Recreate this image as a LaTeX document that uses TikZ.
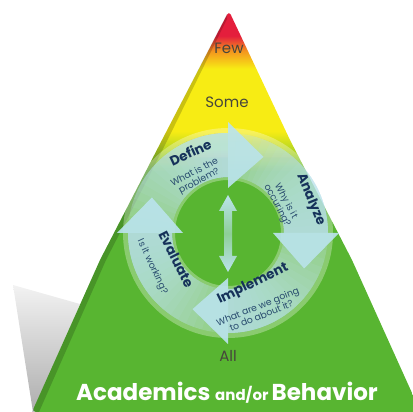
\documentclass[tikz,border=0pt]{standalone}
\usepackage{fontspec}
\setmainfont{Poppins}
\usetikzlibrary{calc}
\definecolor{pred}{RGB}{228,30,60}
\definecolor{porange}{RGB}{244,150,30}
\definecolor{pyellow}{RGB}{247,236,20}
\definecolor{pyg}{RGB}{175,212,35}
\definecolor{pgreen}{RGB}{88,181,49}
\definecolor{arrowblue}{RGB}{186,227,236}
\definecolor{titlecol}{RGB}{22,50,90}
\definecolor{subcol}{RGB}{40,75,110}
\definecolor{lvlcol}{RGB}{70,70,60}
\pgfdeclareverticalshading{pyr}{100bp}{color(0bp)=(pgreen); color(55bp)=(pgreen); color(57.5bp)=(pyg); color(60bp)=(pyellow); color(67.8bp)=(pyellow); color(70bp)=(porange); color(71.9bp)=(pred); color(100bp)=(pred)}
\begin{document}
\begin{tikzpicture}[x=1pt,y=1pt,
  title/.style={font=\fontsize{13.5}{13.5}\selectfont\bfseries, text=titlecol, inner sep=0pt},
  sub/.style={font=\fontsize{9.3}{9.8}\selectfont, text=subcol, inner sep=0pt, align=center},
  lvl/.style={font=\fontsize{15}{15}\selectfont, text=lvlcol, inner sep=0pt}]
\useasboundingbox (0,0) rectangle (412,412);
% shadow
\shade[top color=black!5, bottom color=black!32] (13,127) -- (80,108) -- (33,0) -- cycle;
% pyramid
\path[shading=pyr, rounded corners=4pt] (32,0) -- (100,152) -- (162,272) -- (229,401) -- (290,272) -- (352,152) -- (412,19) -- (421,0) -- cycle;
% left side face
\fill[black, opacity=0.18] (32,0) -- (100,152) -- (162,272) -- (227,398) -- (227,393) -- (167,271) -- (106,152) -- (39,0) -- cycle;
% cycle
\coordinate (C) at (228,179);
\fill[white, fill opacity=0.3, even odd rule] (C) circle (105) (C) circle (53);
\foreach \h in {90,0,-90,180}{
  \foreach \i in {0,...,17}{
    \pgfmathsetmacro\st{\h+90-5*\i}
    \fill[arrowblue, fill opacity=0.1] ([shift={(\st:100)}]C) arc[start angle=\st, end angle=\h, radius=100] -- ([shift={(\h:56)}]C) arc[start angle=\h, end angle=\st, radius=56] -- cycle;
  }
  \pgfmathsetmacro\tp{\h-25}
  \fill[arrowblue, fill opacity=0.92] ([shift={(\h:111)}]C) -- ([shift={(\tp:84)}]C) -- ([shift={(\h:45)}]C) -- cycle;
}
% double arrow
\shade[top color=arrowblue, bottom color=arrowblue, middle color=arrowblue!55!pgreen]
  (228,217) -- (237,201) -- (232,201) -- (232,156) -- (237,156) -- (228,140) -- (219,156) -- (224,156) -- (224,201) -- (219,201) -- cycle;
% cycle texts
\node[title, rotate=25] (define) at ([shift={(115:89)}]C) {Define};
\node[sub, rotate=28] (defsub) at ([shift={(119:64)}]C) {What is the\\problem?};
\node[title, rotate=-68] (analyze) at ([shift={(22:89)}]C) {Analyze};
\node[sub, rotate=-62] (anasub) at ([shift={(29:61)}]C) {Why is it\\occuring?};
\node[title, rotate=26] (implement) at ([shift={(-64:57)}]C) {Implement};
\node[sub, rotate=22] (impsub) at ([shift={(-68:84)}]C) {What are we going\\to do about it?};
\node[title, rotate=-63] (evaluate) at ([shift={(207:58)}]C) {Evaluate};
\node[sub, rotate=-65] (evasub) at ([shift={(204:83)}]C) {Is it working?};
% levels
\node[lvl] (few) at (229,364) {Few};
\node[lvl] (some) at (227,310) {Some};
\node[lvl] (all) at (228,56) {All};
\node[inner sep=0pt, text=white, anchor=base] (acad) at (227,12)
  {\fontsize{23}{23}\selectfont\bfseries Academics \fontsize{15}{15}\selectfont and/or \fontsize{23}{23}\selectfont Behavior};
\end{tikzpicture}
\end{document}
